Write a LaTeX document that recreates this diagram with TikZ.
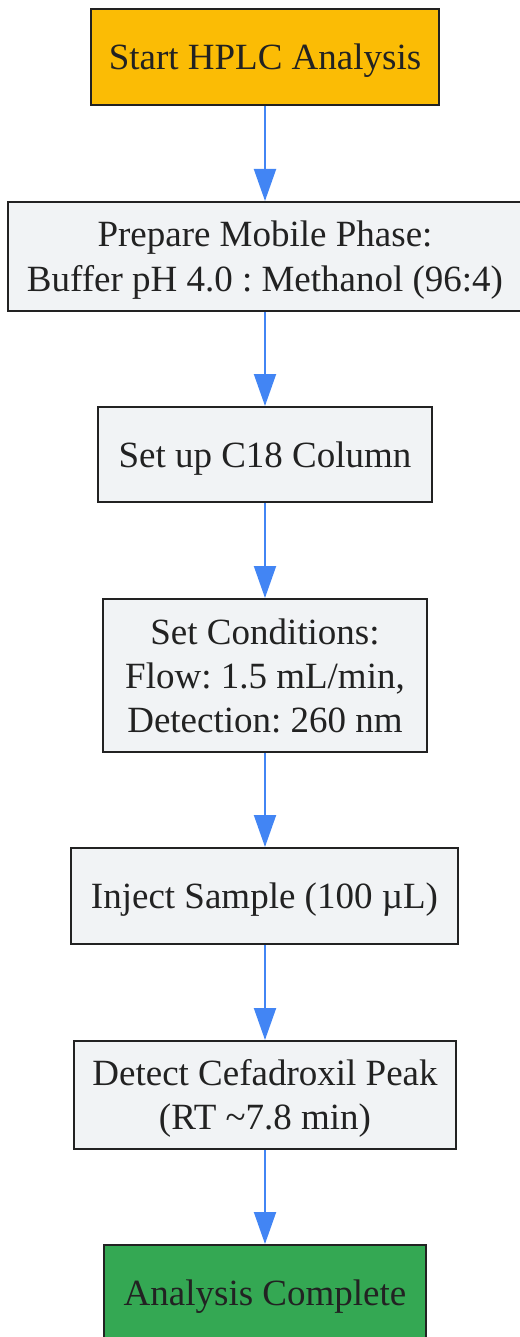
\documentclass[tikz,border=0pt]{standalone}
\usepackage{fontspec}
\setmainfont{Liberation Serif}
\usetikzlibrary{arrows.meta}
\definecolor{boxfill}{HTML}{F1F3F5}
\definecolor{boxline}{HTML}{222222}
\definecolor{txt}{HTML}{222222}
\definecolor{startc}{HTML}{FBBC05}
\definecolor{endc}{HTML}{34A853}
\definecolor{arr}{HTML}{4285F4}
\newcommand\ls{\rule[-9.5pt]{0pt}{44pt}}
\tikzset{
  stepbox/.style={draw=boxline, line width=2pt, fill=boxfill, text=txt, inner sep=0pt,
    align=center, font=\fontsize{37}{44}\selectfont\frenchspacing},
  flow/.style={draw=arr, line width=2pt, -{Triangle[width=22pt,length=32pt]}, shorten >=0pt}
}
\begin{document}
\begin{tikzpicture}[x=1pt,y=-1pt]
\useasboundingbox (0,0) rectangle (519,1337);
\node[stepbox, fill=startc, minimum width=348pt, minimum height=96pt] (n1) at (265,57) {\ls Start HPLC Analysis};
\node[stepbox, minimum width=514pt, minimum height=109pt] (n2) at (265,256.5) {\ls Prepare Mobile Phase:\\\ls Buffer pH 4.0 : Methanol (96:4)};
\node[stepbox, minimum width=334pt, minimum height=95pt] (n3) at (265,454.5) {\ls Set up C18 Column};
\node[stepbox, minimum width=324pt, minimum height=153pt] (n4) at (265,675.5) {\ls Set Conditions:\\\ls Flow: 1.5 mL/min,\\\ls Detection: 260 nm};
\node[stepbox, minimum width=387pt, minimum height=96pt] (n5) at (264.5,896) {\ls Inject Sample (100 µL)};
\node[stepbox, minimum width=382pt, minimum height=108pt] (n6) at (265,1095) {\ls Detect Cefadroxil Peak\\\ls (RT \textasciitilde7.8 min)};
\node[stepbox, fill=endc, minimum width=322pt, minimum height=96pt] (n7) at (265,1293) {\ls Analysis Complete};
\draw[flow] (n1.south) -- (n2.north);
\draw[flow] (n2.south) -- (n3.north);
\draw[flow] (n3.south) -- (n4.north);
\draw[flow] (n4.south) -- (n5.north -| n4.south);
\draw[flow] (n5.south -| n4.south) -- (n6.north);
\draw[flow] (n6.south) -- (n7.north);
\end{tikzpicture}
\end{document}
